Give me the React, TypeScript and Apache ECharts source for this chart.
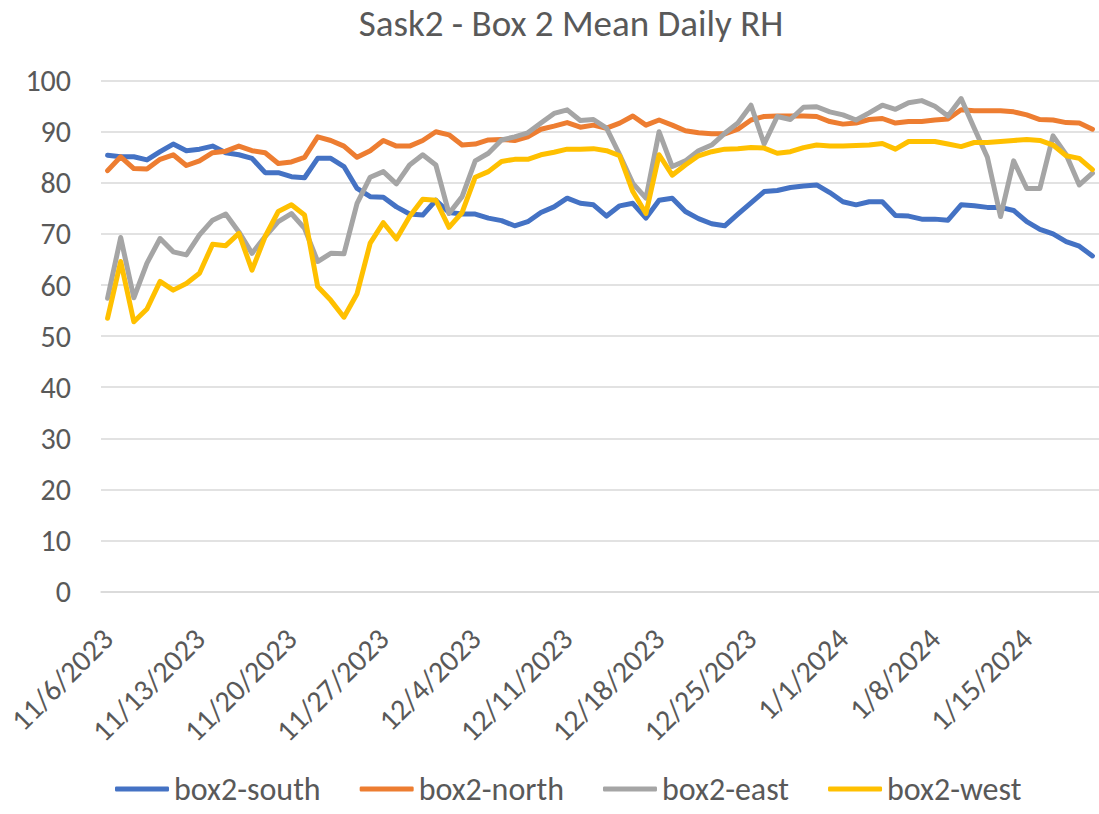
import React, { useEffect, useRef } from "react";
import * as echarts from "echarts";

const TITLE = "Sask2 - Box 2 Mean Daily RH";
const START_DATE = [2023, 11, 6];
const DAY_COUNT = 76;

const southValues = [
  85.4, 85.1, 85.1, 84.5, 86.1, 87.6, 86.3, 86.6, 87.2, 85.9, 85.5, 84.8, 82.0, 82.0, 81.2, 81.0,
  84.8, 84.8, 83.2, 78.9, 77.3, 77.2, 75.3, 73.9, 73.7, 76.6, 74.2, 73.9, 73.9, 73.1, 72.6,
  71.6, 72.4, 74.2, 75.3, 77.0, 76.0, 75.7, 73.5, 75.5, 76.0, 73.1, 76.6, 77.0, 74.4, 73.0,
  72.0, 71.6, 73.9, 76.1, 78.3, 78.5, 79.1, 79.4, 79.6, 78.1, 76.3, 75.7, 76.3, 76.3, 73.6,
  73.5, 72.9, 72.9, 72.7, 75.7, 75.5, 75.2, 75.2, 74.6, 72.4, 70.9, 70.0, 68.5, 67.6, 65.7,
];
const northValues = [
  82.4, 85.1, 82.8, 82.7, 84.6, 85.5, 83.4, 84.3, 85.9, 86.2, 87.2, 86.3, 85.9, 83.8, 84.1, 85.0,
  89.0, 88.3, 87.2, 85.0, 86.3, 88.3, 87.2, 87.2, 88.3, 90.0, 89.4, 87.4, 87.6, 88.4, 88.5,
  88.3, 89.0, 90.5, 91.1, 91.8, 90.9, 91.3, 90.7, 91.7, 93.1, 91.3, 92.3, 91.3, 90.2, 89.8,
  89.6, 89.6, 90.5, 92.3, 93.0, 93.1, 93.1, 93.1, 93.0, 92.0, 91.5, 91.7, 92.4, 92.6, 91.7,
  92.0, 92.0, 92.3, 92.5, 94.3, 94.1, 94.1, 94.1, 93.9, 93.3, 92.4, 92.3, 91.8, 91.7, 90.5,
];
const eastValues = [
  57.4, 69.3, 57.5, 64.3, 69.1, 66.5, 65.9, 69.8, 72.7, 73.9, 70.4, 66.2, 69.5, 72.4, 74.0, 71.1,
  64.6, 66.2, 66.1, 76.0, 81.1, 82.2, 79.8, 83.5, 85.5, 83.5, 74.0, 77.3, 84.3, 85.8, 88.4,
  89.0, 89.8, 91.7, 93.6, 94.3, 92.2, 92.4, 90.7, 85.5, 79.9, 77.0, 90.0, 83.2, 84.3, 86.3,
  87.4, 89.7, 91.7, 95.2, 87.6, 93.0, 92.4, 94.8, 94.9, 93.9, 93.3, 92.3, 93.7, 95.2, 94.4,
  95.7, 96.1, 95.0, 93.1, 96.5, 90.7, 85.0, 73.4, 84.3, 78.9, 78.9, 89.2, 85.5, 79.6, 81.9,
];
const westValues = [
  53.5, 64.6, 52.8, 55.3, 60.7, 59.0, 60.3, 62.3, 68.0, 67.7, 70.1, 62.9, 69.5, 74.4, 75.7, 73.7,
  59.7, 57.0, 53.7, 58.3, 68.2, 72.2, 69.0, 73.4, 76.8, 76.6, 71.3, 74.2, 81.1, 82.2, 84.2,
  84.6, 84.6, 85.5, 86.0, 86.6, 86.6, 86.7, 86.3, 85.3, 78.3, 74.0, 85.5, 81.5, 83.5, 85.3,
  86.1, 86.6, 86.7, 86.9, 86.8, 85.8, 86.1, 86.9, 87.4, 87.2, 87.2, 87.3, 87.4, 87.7, 86.6,
  88.1, 88.1, 88.1, 87.6, 87.1, 87.9, 87.9, 88.1, 88.3, 88.5, 88.3, 87.4, 85.3, 84.8, 82.6,
];

const seriesNames = ["box2-south", "box2-north", "box2-east", "box2-west"];
const seriesColors = ["#4472C4", "#ED7D31", "#A5A5A5", "#FFC000"];
const seriesValues = [southValues, northValues, eastValues, westValues];

function buildDates(): string[] {
  const out: string[] = [];
  const d = new Date(START_DATE[0], START_DATE[1] - 1, START_DATE[2]);
  for (let i = 0; i < DAY_COUNT; i++) {
    out.push(`${d.getMonth() + 1}/${d.getDate()}/${d.getFullYear()}`);
    d.setDate(d.getDate() + 1);
  }
  return out;
}
const dates = buildDates();

const FONT = "Carlito, Lato, sans-serif";
const TEXT_COLOR = "#595959";

export default function App() {
  const ref = useRef<HTMLDivElement>(null);
  useEffect(() => {
    document.body.style.margin = "0";
    const chart = echarts.init(ref.current!, null, { renderer: "svg" });
    chart.setOption({
      animation: false,
      backgroundColor: "#ffffff",
      title: {
        text: TITLE,
        left: 566,
        textAlign: "center",
        top: 0,
        textStyle: { fontFamily: FONT, fontSize: 37, fontWeight: "normal", color: TEXT_COLOR },
      },
      grid: { left: 101, right: -3.5, top: 80.7, bottom: 222.5, containLabel: false },
      xAxis: {
        type: "category",
        data: dates,
        boundaryGap: true,
        axisTick: { show: false },
        axisLine: { lineStyle: { color: "#D9D9D9", width: 1.5 } },
        axisLabel: {
          interval: 6,
          rotate: 45,
          fontFamily: FONT,
          fontSize: 30,
          color: TEXT_COLOR,
          margin: 42,
        },
      },
      yAxis: {
        type: "value",
        min: 0,
        max: 100,
        interval: 10,
        axisLine: { show: false },
        axisTick: { show: false },
        splitLine: { lineStyle: { color: "#D9D9D9", width: 1.5 } },
        axisLabel: { fontFamily: FONT, fontSize: 30, color: TEXT_COLOR, margin: 30 },
      },
      legend: {
        bottom: 4,
        left: 110,
        itemWidth: 54,
        itemHeight: 5,
        itemGap: 39,
        icon: "roundRect",
        textStyle: { fontFamily: FONT, fontSize: 32, color: TEXT_COLOR },
        data: seriesNames,
      },
      series: seriesNames.map((name, k) => ({
        name,
        type: "line",
        data: seriesValues[k],
        showSymbol: false,
        symbol: "none",
        color: seriesColors[k],
        lineStyle: { width: 5, color: seriesColors[k], cap: "round", join: "round" },
      })),
    });
    return () => chart.dispose();
  }, []);
  return <div ref={ref} style={{ width: 1099, height: 814 }} />;
}
